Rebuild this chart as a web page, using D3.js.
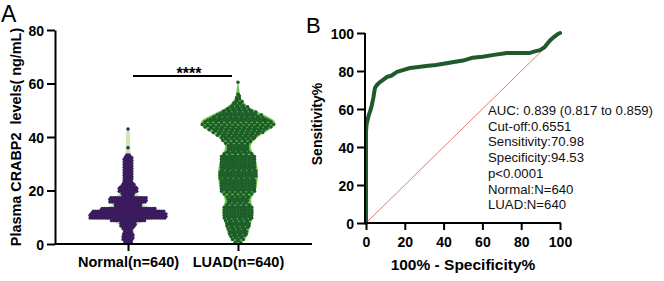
<!DOCTYPE html>
<html><head><meta charset="utf-8">
<script src="https://cdn.jsdelivr.net/npm/d3@7"></script>
<style>
html,body{margin:0;padding:0;background:#fff;}
svg{display:block;font-family:Arial,"Liberation Sans",sans-serif;}
</style></head>
<body>
<svg id="c" width="664" height="281"></svg>
<script>
// ---------- DATA ----------
const groups = ["Normal(n=640)", "LUAD(n=640)"];
const yTicksA = [0, 20, 40, 60, 80];
// beeswarm rows: level (ng/mL) and number of dots at that level
const normalLevels = [1,2,3,4,5,6,7,8,9,10,11,12,13,14,15,16,17,18,19,20,21,22,23,24,25,26,27,28,29,30,31,32,33,36,43];
const normalCounts = [7,10,10,9,7,10,14,14,31,70,70,66,50,24,24,34,34,10,12,17,17,12,9,8,8,8,8,8,8,8,8,8,5,1,1];
const luadLevels = [1,2,3,4,5,6,7,8,9,10,11,12,13,14,15,16,17,18,19,20,21,22,23,24,25,26,27,28,29,30,31,32,33,34,35,36,37,38,39,40,41,42,43,44,45,46,47,48,49,50,51,52,53,54,55,56,60.5];
const luadCounts = [3,5,6,7,7,8,9,9,10,11,11,11,11,11,9,8,8,9,11,13,13,13,13,13,14,14,14,13,13,13,13,13,13,11,8,8,8,10,12,13,16,19,22,25,27,25,21,18,14,11,8,5,4,2,2,1,1];
// violin density outlines (relative)
const normalViolinLevels = [0.6,1,3,5,7,9,10.5,12,13.5,15,16.5,18,20,22,24,28,32,35,38,42.8,43.3];
const normalViolinDensity = [0,0.08,0.14,0.12,0.2,0.45,0.98,0.9,0.55,0.35,0.45,0.25,0.22,0.2,0.1,0.09,0.08,0.06,0.05,0.05,0];
const luadViolinLevels = [0.3,1,3,6,9,12,14,16,18,20,23,27,31,34,36,38,40,42,44.5,46.5,48,50,52,54,56,58,61];
const luadViolinDensity = [0,0.12,0.26,0.3,0.36,0.42,0.38,0.32,0.36,0.47,0.5,0.52,0.47,0.4,0.3,0.36,0.5,0.72,1.0,0.92,0.72,0.42,0.2,0.09,0.05,0.03,0];
const sigLabel = "****";
// ROC curve
const rocFpr  = [0,0,0.3,1,1.5,2.2,3,3.8,4.6,5.5,7,9,11,13,16,19,22.7,26,31,36,43,50,55,60,66,72.7,80,84.5,87,89.7,92,94.8,97,99,100];
const rocSens = [0,48,52,55,57,59,62,66,71,72.5,74,75.5,77,77.5,79.5,80.5,81.6,82,82.6,83.2,84.3,85.5,87,87.5,88.5,89.5,89.5,89.5,90.3,91,92.5,96,98,99.5,100];
const ticksB = [0, 20, 40, 60, 80, 100];
const rocText = ["AUC: 0.839 (0.817 to 0.859)", "Cut-off:0.6551", "Sensitivity:70.98", "Specificity:94.53", "p<0.0001", "Normal:N=640", "LUAD:N=640"];

// ---------- DRAW ----------
const svg = d3.select("#c");

// Panel A
const yA = d3.scaleLinear().domain([0, 80]).range([244, 30]);
const xA = d3.scalePoint().domain(groups).range([55, 311]).padding(0.664);
const dens = d3.scaleLinear().domain([0, 1]).range([0, 39]);

const violins = [
  {g: groups[0], lv: normalViolinLevels, d: normalViolinDensity, fill: "#c9e6b6", rows: normalLevels, counts: normalCounts, dot: "#3b1c5e", step: 1.1, r: 1.7, dy: 0.28},
  {g: groups[1], lv: luadViolinLevels, d: luadViolinDensity, fill: "#72c44c", rows: luadLevels, counts: luadCounts, dot: "#1d5c2b", step: 2.75, r: 1.75, dy: 0.3}
];

violins.forEach(v => {
  const cx = xA(v.g);
  const pts = v.lv.map((l, i) => [l, v.d[i]]);
  const area = d3.area().curve(d3.curveBasis)
    .y(p => yA(p[0])).x0(p => cx - dens(p[1])).x1(p => cx + dens(p[1]));
  svg.append("path").attr("d", area(pts)).attr("fill", v.fill);
  const dots = [];
  v.rows.forEach((lvl, i) => {
    const n = v.counts[i];
    for (let j = 0; j < n; j++) {
      const off = (j - (n - 1) / 2) * v.step;
      const dy = n > 1 ? (j % 2 === 0 ? -v.dy : v.dy) : 0;
      dots.push({x: cx + off, y: yA(lvl + dy)});
    }
  });
  svg.append("g").selectAll("circle").data(dots).join("circle")
    .attr("cx", d => d.x).attr("cy", d => d.y).attr("r", v.r).attr("fill", v.dot);
});

// axes A
const axA = svg.append("g").attr("transform", "translate(55,0)")
  .call(d3.axisLeft(yA).tickValues(yTicksA).tickSize(8).tickSizeOuter(0));
const axXA = svg.append("g").attr("transform", "translate(0,244)")
  .call(d3.axisBottom(xA).tickSize(7).tickSizeOuter(0));
[axA, axXA].forEach(a => {
  a.select(".domain").attr("stroke", "#000").attr("stroke-width", 2);
  a.selectAll(".tick line").attr("stroke", "#000").attr("stroke-width", 2);
  a.selectAll("text").attr("fill", "#000").attr("font-weight", "bold")
    .attr("font-family", "Arial, 'Liberation Sans', sans-serif");
});
axA.selectAll("text").attr("font-size", 14).attr("x", -11).attr("dy", "0.36em");
axXA.selectAll("text").attr("font-size", 14.5).attr("y", 13).attr("dy", "0.71em");
axXA.select(".domain").attr("d", "M55,0H312");

svg.append("text").attr("transform", "translate(21,137) rotate(-90)")
  .attr("text-anchor", "middle").attr("font-size", 14.4).attr("font-weight", "bold")
  .text("Plasma CRABP2  levels( ng/mL)").attr("xml:space", "preserve").style("white-space", "pre");

svg.append("line").attr("x1", 133).attr("x2", 232).attr("y1", 76).attr("y2", 76)
  .attr("stroke", "#000").attr("stroke-width", 2);
svg.append("text").attr("x", 189).attr("y", 79).attr("text-anchor", "middle")
  .attr("font-size", 16).attr("font-weight", "bold").text(sigLabel);

svg.append("text").attr("x", 1).attr("y", 22).attr("font-size", 23).text("A");

// Panel B
const xB = d3.scaleLinear().domain([0, 100]).range([366, 560]);
const yB = d3.scaleLinear().domain([0, 100]).range([223, 33]);

svg.append("line").attr("x1", xB(0)).attr("y1", yB(0)).attr("x2", xB(100)).attr("y2", yB(100))
  .attr("stroke", "#e06a6a").attr("stroke-width", 0.9);

const roc = rocFpr.map((f, i) => [f, rocSens[i]]);
svg.append("path").attr("d", d3.line().x(p => xB(p[0])).y(p => yB(p[1])).curve(d3.curveLinear)(roc))
  .attr("fill", "none").attr("stroke", "#1f5a2c").attr("stroke-width", 4)
  .attr("stroke-linejoin", "round").attr("stroke-linecap", "round");

const axYB = svg.append("g").attr("transform", "translate(365,0)")
  .call(d3.axisLeft(yB).tickValues(ticksB).tickSize(8).tickSizeOuter(0));
const axXB = svg.append("g").attr("transform", "translate(0,223)")
  .call(d3.axisBottom(xB).tickValues(ticksB).tickSize(7).tickSizeOuter(0));
[axYB, axXB].forEach(a => {
  a.select(".domain").attr("stroke", "#000").attr("stroke-width", 2);
  a.selectAll(".tick line").attr("stroke", "#000").attr("stroke-width", 2);
  a.selectAll("text").attr("fill", "#000").attr("font-weight", "bold").attr("font-size", 14)
    .attr("font-family", "Arial, 'Liberation Sans', sans-serif");
});
axYB.selectAll("text").attr("x", -11).attr("dy", "0.36em");
axXB.selectAll("text").attr("y", 14).attr("dy", "0.71em");
axXB.select(".domain").attr("d", "M364,0H561");
axYB.select(".domain").attr("d", "M0,33V224");

svg.append("text").attr("transform", "translate(322,124) rotate(-90)")
  .attr("text-anchor", "middle").attr("font-size", 14).attr("font-weight", "bold").text("Sensitivity%");
svg.append("text").attr("x", 463).attr("y", 270).attr("text-anchor", "middle")
  .attr("font-size", 15.5).attr("font-weight", "bold").text("100% - Specificity%");

svg.append("g").selectAll("text").data(rocText).join("text")
  .attr("x", 488).attr("y", (d, i) => 115 + i * 15.7)
  .attr("font-size", 13.2).attr("fill", "#111").text(d => d);

svg.append("text").attr("x", 306).attr("y", 33).attr("font-size", 22).text("B");
</script>
</body></html>
